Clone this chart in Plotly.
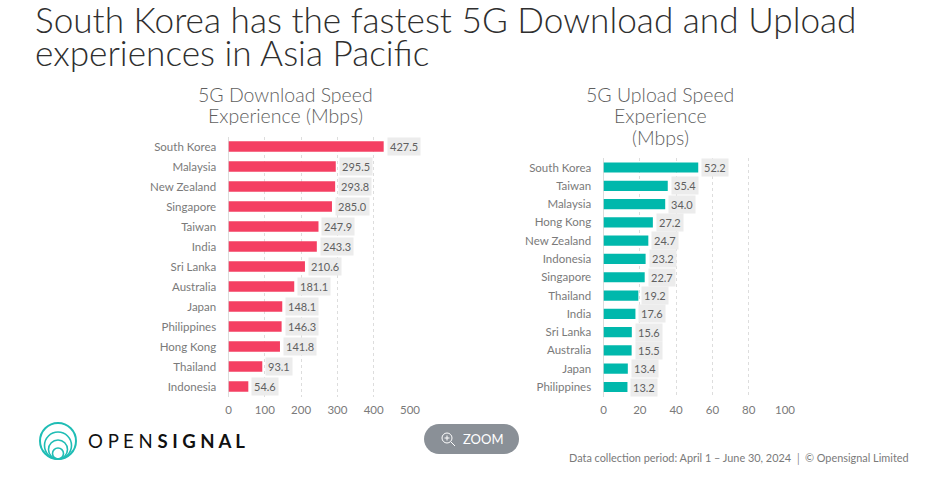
import plotly.graph_objects as go

W, H = 943, 484

download_countries = ["South Korea", "Malaysia", "New Zealand", "Singapore", "Taiwan", "India", "Sri Lanka",
                      "Australia", "Japan", "Philippines", "Hong Kong", "Thailand", "Indonesia"]
download_speeds = [427.5, 295.5, 293.8, 285.0, 247.9, 243.3, 210.6, 181.1, 148.1, 146.3, 141.8, 93.1, 54.6]
download_ticks = [0, 100, 200, 300, 400, 500]

upload_countries = ["South Korea", "Taiwan", "Malaysia", "Hong Kong", "New Zealand", "Indonesia", "Singapore",
                    "Thailand", "India", "Sri Lanka", "Australia", "Japan", "Philippines"]
upload_speeds = [52.2, 35.4, 34.0, 27.2, 24.7, 23.2, 22.7, 19.2, 17.6, 15.6, 15.5, 13.4, 13.2]
upload_ticks = [0, 20, 40, 60, 80, 100]

FONT = "Lato"
PINK = "#F43F62"
TEAL = "#00B8AC"
TEXT = "#7a7a7a"


def px(x):
    return x / W


def py(y):
    return 1 - y / H


fig = go.Figure()
fig.add_bar(x=download_speeds, y=download_countries, orientation="h", marker_color=PINK,
            marker_line_width=0, xaxis="x", yaxis="y", width=0.52, hoverinfo="skip")
fig.add_bar(x=upload_speeds, y=upload_countries, orientation="h", marker_color=TEAL,
            marker_line_width=0, xaxis="x2", yaxis="y2", width=0.56, hoverinfo="skip")

annotations = []


# Value chips sit just past the end of each bar
def value_chips(values, names, xref, yref):
    for v, n in zip(values, names):
        annotations.append(dict(
            x=v, y=n, xref=xref, yref=yref, text=f"{v:.1f}", showarrow=False,
            xanchor="left", xshift=3, bgcolor="#ECECEC", borderpad=2,
            font=dict(family=FONT, size=11, color="#5f5f5f"),
        ))


value_chips(download_speeds, download_countries, "x", "y")
value_chips(upload_speeds, upload_countries, "x2", "y2")


def label(x, y, text, size, color, anchor="center", weight=400, height=None):
    annotations.append(dict(
        x=px(x), y=py(y), xref="paper", yref="paper", text=text, showarrow=False,
        xanchor=anchor, yanchor="middle", align=anchor, height=height,
        font=dict(family=FONT, size=size, color=color, weight=weight),
    ))


# Headline, one annotation per line to keep the leading tight
label(33, 19, "South Korea has the fastest 5G Download and Upload", 35.2, "#2f2f2f", "left", 300)
label(33, 52, "experiences in Asia Pacific", 35.2, "#2f2f2f", "left", 300)

# Chart headings
for y, line in [(94, "5G Download Speed"), (115, "Experience (Mbps)")]:
    label(285, y, line, 19.5, "#5f5f5f", weight=300, height=20)
for y, line in [(94, "5G Upload Speed"), (115, "Experience"), (137, "(Mbps)")]:
    label(660, y, line, 19.5, "#5f5f5f", weight=300, height=20)

# Brand wordmark and footer
label(86, 441, "O P E N <b>S I G N A L</b>", 18.6, "#111111", "left")
label(911, 458, "Data collection period: April 1 – June 30, 2024 │ © Opensignal Limited", 10.9, "#7a7a7a", "right")
label(483, 439, "ZOOM", 13, "#ffffff")

shapes = []

# Concentric logo rings, all touching at the bottom
for r, w in [(18, 2), (13.5, 1.6), (9.5, 1.6), (5.5, 1.6)]:
    shapes.append(dict(type="circle", xref="paper", yref="paper",
                       x0=px(58 - r), x1=px(58 + r), y0=py(459 - 2 * r), y1=py(459),
                       line=dict(color="#1FBDB5", width=w)))

# Pill behind the zoom control
l, r_, t, b, c = 424, 519, 424, 454, 15
k = 0.55 * c
shapes.append(dict(
    type="path", xref="paper", yref="paper", fillcolor="#8A9097", line_width=0, layer="below",
    path=(f"M {px(l + c)} {py(t)} L {px(r_ - c)} {py(t)} "
          f"C {px(r_ - c + k)} {py(t)} {px(r_)} {py(t + c - k)} {px(r_)} {py(t + c)} "
          f"C {px(r_)} {py(b - c + k)} {px(r_ - c + k)} {py(b)} {px(r_ - c)} {py(b)} "
          f"L {px(l + c)} {py(b)} "
          f"C {px(l + c - k)} {py(b)} {px(l)} {py(b - c + k)} {px(l)} {py(b - c)} "
          f"C {px(l)} {py(t + c - k)} {px(l + c - k)} {py(t)} {px(l + c)} {py(t)} Z"),
))

# Magnifier glyph
shapes.append(dict(type="circle", xref="paper", yref="paper", x0=px(442), x1=px(452), y0=py(443), y1=py(433),
                   line=dict(color="white", width=1)))
for x0, y0, x1, y1 in [(451, 442, 455, 446), (447, 435.5, 447, 440.5), (444.5, 438, 449.5, 438)]:
    shapes.append(dict(type="line", xref="paper", yref="paper", x0=px(x0), x1=px(x1), y0=py(y0), y1=py(y1),
                       line=dict(color="white", width=1)))


def x_axis(domain, rng, ticks, anchor):
    return dict(domain=domain, range=rng, tickvals=ticks, anchor=anchor, showgrid=True, automargin=False,
                gridcolor="#DDDDDD", griddash="3px,3px", gridwidth=1, zeroline=True, zerolinecolor="#DDDDDD",
                zerolinewidth=1, showline=False, ticks="outside", ticklen=3, tickcolor="rgba(0,0,0,0)",
                tickfont=dict(family=FONT, size=11.5, color=TEXT))


def y_axis(domain, names, anchor):
    return dict(domain=domain, categoryorder="array", categoryarray=names, autorange="reversed",
                anchor=anchor, showgrid=False, zeroline=False, showline=False, ticks="outside", ticklen=9,
                automargin=False, tickcolor="rgba(0,0,0,0)", tickfont=dict(family=FONT, size=11.5, color=TEXT))


fig.update_layout(
    width=W, height=H, margin=dict(l=0, r=0, t=0, b=0, autoexpand=False), paper_bgcolor="white",
    plot_bgcolor="white", showlegend=False, annotations=annotations, shapes=shapes,
    xaxis=x_axis([px(228.5), px(410)], [0, 500], download_ticks, "y"),
    yaxis=y_axis([py(396.5), py(136.5)], download_countries, "x"),
    xaxis2=x_axis([px(603.5), px(785)], [0, 100], upload_ticks, "y2"),
    yaxis2=y_axis([py(396.5), py(158)], upload_countries, "x2"),
)

fig.write_html("out.html", config={"displayModeBar": False})
